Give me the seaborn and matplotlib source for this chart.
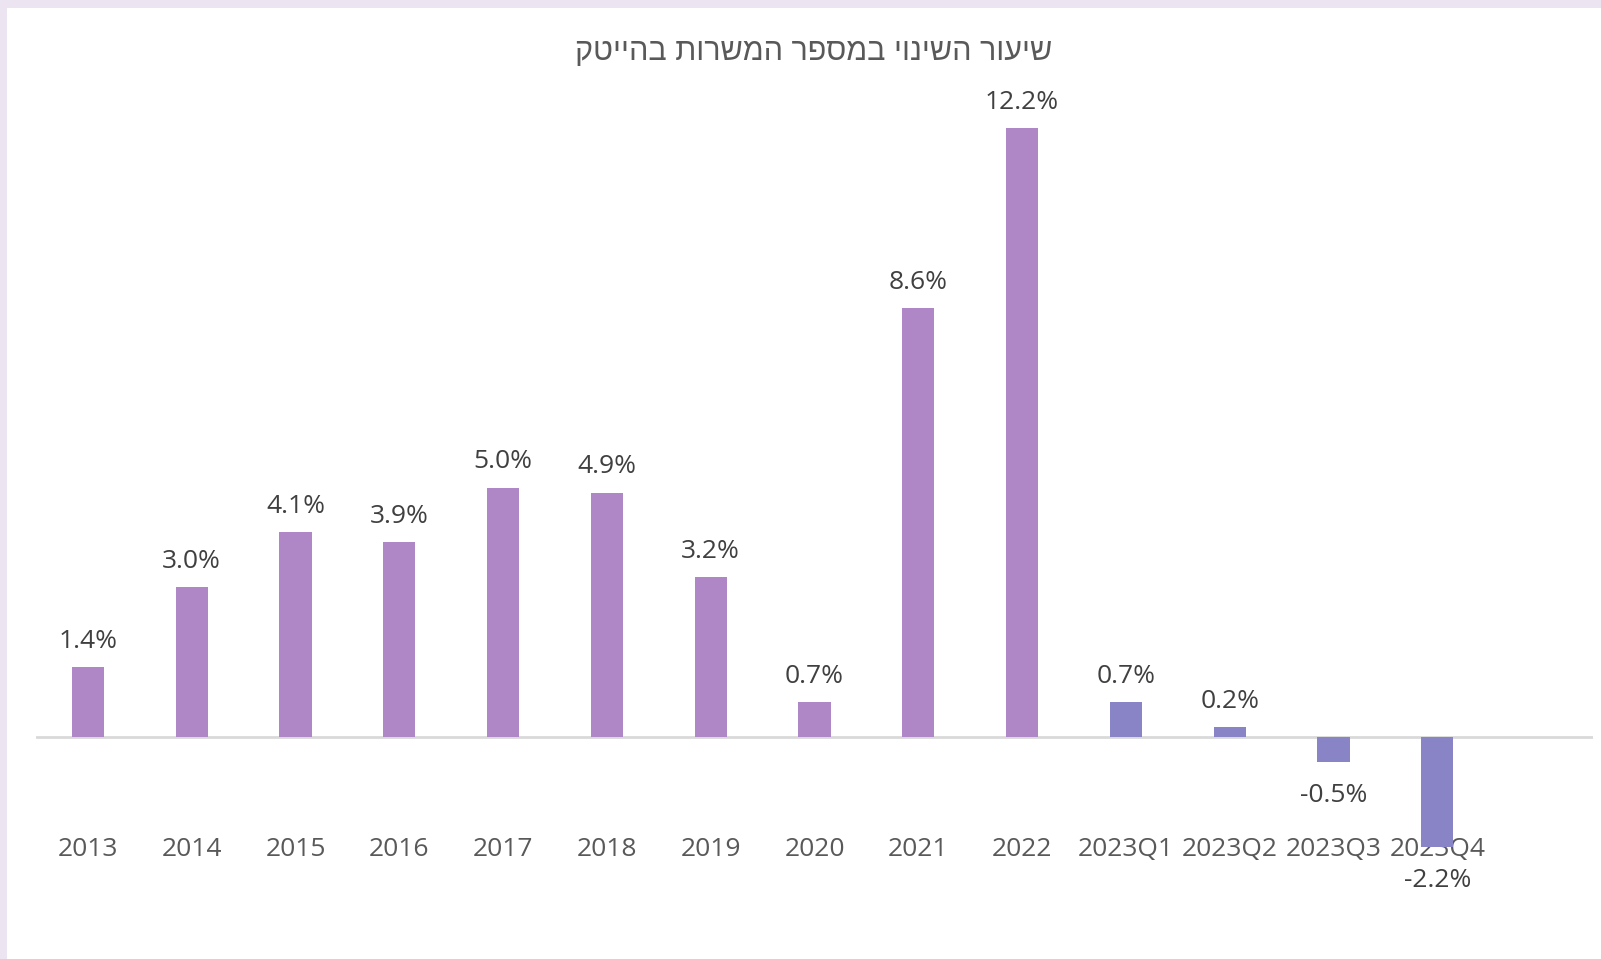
import matplotlib
matplotlib.use("Agg")
import matplotlib.pyplot as plt
from matplotlib.patches import Rectangle
import seaborn as sns
import pandas as pd

# data
categories = ["2013", "2014", "2015", "2016", "2017", "2018", "2019", "2020",
              "2021", "2022", "2023Q1", "2023Q2", "2023Q3", "2023Q4"]
values = [1.4, 3.0, 4.1, 3.9, 5.0, 4.9, 3.2, 0.7, 8.6, 12.2, 0.7, 0.2, -0.5, -2.2]
period = ["year"] * 10 + ["quarter"] * 4
title = "שיעור השינוי במספר המשרות בהייטק"

colors = {"year": "#AF86C6", "quarter": "#8884C6"}

sns.set_theme(style="white")
plt.rcParams["font.family"] = ["Open Sans", "DejaVu Sans"]

df = pd.DataFrame({"cat": categories, "val": values, "period": period})

fig = plt.figure(figsize=(16.01, 9.59), dpi=100)
fig.patch.set_facecolor("#EDE4F1")
# white panel inside the lavender frame (left and top edges)
fig.patches.append(Rectangle((7 / 1601, 0), 1, 1 - 8 / 959, transform=fig.transFigure,
                             facecolor="white", edgecolor="none", zorder=-5))

ax = fig.add_axes([36 / 1601, 1 - 846.8 / 959, (1593 - 36) / 1601, (846.8 - 88.3) / 959])
ax.set_facecolor("none")
ax.set_zorder(1)

sns.barplot(data=df, x="cat", y="val", hue="period", palette=colors, width=0.31,
            legend=False, ax=ax, saturation=1, linewidth=0)

ax.set_xlim(-0.5, 14.5)
ax.set_ylim(-2.2, 13.0)
ax.axhline(0, color="#D9D9D9", lw=2, zorder=0.5)

for s in ax.spines.values():
    s.set_visible(False)
ax.set_yticks([])
ax.set_xlabel("")
ax.set_ylabel("")
ax.tick_params(axis="x", length=0, pad=2.2, labelsize=19, labelcolor="#595959")
for t in ax.get_xticklabels():
    t.set_va("center")

# data labels
for i, v in enumerate(values):
    off = 18.5 if v >= 0 else -24
    ax.annotate(f"{v:.1f}%", (i, v), xytext=(0, off), textcoords="offset points",
                ha="center", va="center", fontsize=19, color="#404040",
                annotation_clip=False)

fig.text(814 / 1601, 1 - 52 / 959, title[::-1], ha="center", va="center",
         fontsize=22, color="#595959", family=["Liberation Sans", "DejaVu Sans"])

fig.savefig("out.png", dpi=100)
